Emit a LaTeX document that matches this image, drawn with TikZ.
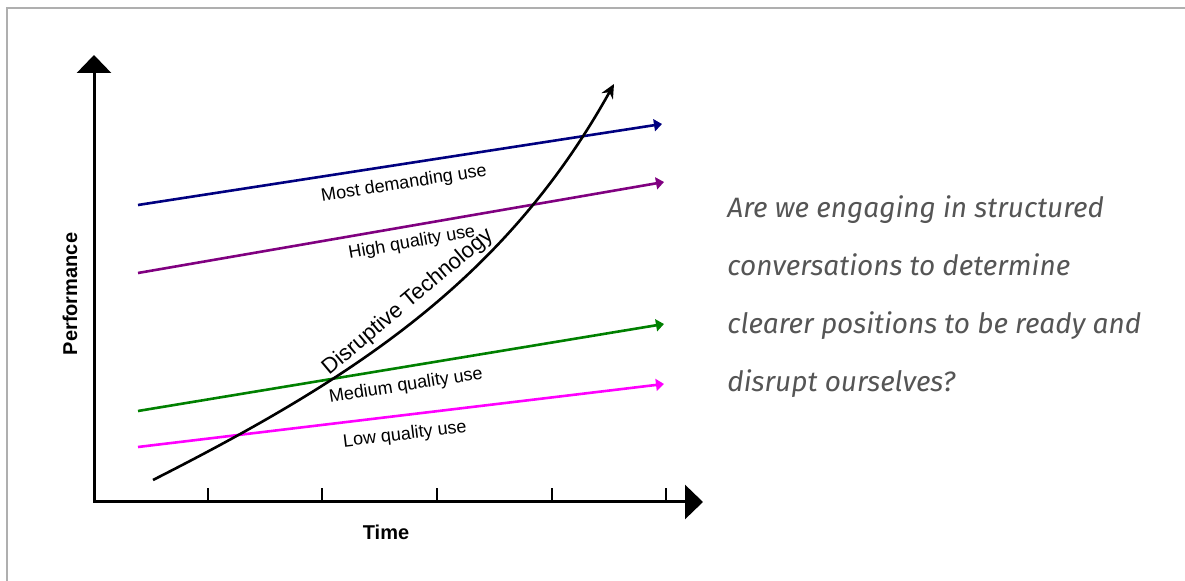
\documentclass[tikz,border=0pt]{standalone}
\usepackage{fontspec}
\setmainfont{Liberation Sans}
\newfontfamily\questionfont{Fira Sans}
\usetikzlibrary{arrows.meta,positioning}
\definecolor{mostuse}{RGB}{0,0,128}
\definecolor{highuse}{RGB}{128,0,128}
\definecolor{meduse}{RGB}{0,128,0}
\definecolor{lowuse}{RGB}{255,0,255}
\definecolor{framegray}{RGB}{175,175,175}
\definecolor{questiongray}{RGB}{85,85,85}
\tikzset{
    axisline/.style={line width=1.5pt, {Triangle[length=9pt,width=17pt]}-{Triangle[length=9pt,width=17pt]}},
    useline/.style={line width=1.3pt, -{Triangle[length=4pt,width=6pt]}},
    uselabel/.style={font=\fontsize{9}{10}\selectfont, inner sep=0pt}
}

\begin{document}
\begin{tikzpicture}[x=0.5pt,y=-0.5pt]
    \useasboundingbox (0,0) rectangle (1185,581);
    \draw[framegray, line width=0.8pt] (7,581) -- (7,8) -- (1185,8);

    \coordinate (origin) at (94,502);
    \coordinate (ytop) at (94,55);
    \coordinate (xend) at (703,502);
    \draw[axisline] (ytop) -- (origin) -- (xend);
    \foreach \t in {208,322,437,552,666}
        \draw[line width=0.75pt] (\t,502) -- (\t,488);
    \node[font=\fontsize{10}{12}\selectfont\bfseries] (time) at (386,532) {Time};
    \node[font=\fontsize{10}{12}\selectfont\bfseries, rotate=90] (perf) at (70,294) {Performance};

    \coordinate (most0) at (138,205);
    \coordinate (most1) at (662,124);
    \coordinate (high0) at (138,273);
    \coordinate (high1) at (664,182);
    \coordinate (med0) at (138,411);
    \coordinate (med1) at (664,324);
    \coordinate (low0) at (138,447);
    \coordinate (low1) at (664,384);
    \draw[useline, mostuse] (most0) -- (most1);
    \draw[useline, highuse] (high0) -- (high1);
    \draw[useline, meduse] (med0) -- (med1);
    \draw[useline, lowuse] (low0) -- (low1);
    \node[uselabel, rotate=9] (mostlbl) at (404,184) {Most demanding use};
    \node[uselabel, rotate=10] (highlbl) at (412,243) {High quality use};
    \node[uselabel, rotate=9] (medlbl) at (406,386) {Medium quality use};
    \node[uselabel, rotate=7] (lowlbl) at (405,435) {Low quality use};

    \coordinate (dt0) at (153,480);
    \coordinate (dt1) at (614,84);
    \draw[line width=1.3pt, -{Stealth[length=7pt,width=6.5pt]}] (dt0) .. controls (350,380) and (504,282) .. (dt1);
    \node[font=\fontsize{11}{12}\selectfont, rotate=40, inner sep=0pt] (dtlbl) at (408,302) {Disruptive Technology};

    \node[font=\questionfont\itshape\fontsize{14}{29}\selectfont, text=questiongray,
          align=left, anchor=north west, inner sep=0pt] (question) at (727,195)
        {Are we engaging in structured\\conversations to determine\\clearer positions to be ready and\\disrupt ourselves?};
\end{tikzpicture}
\end{document}
